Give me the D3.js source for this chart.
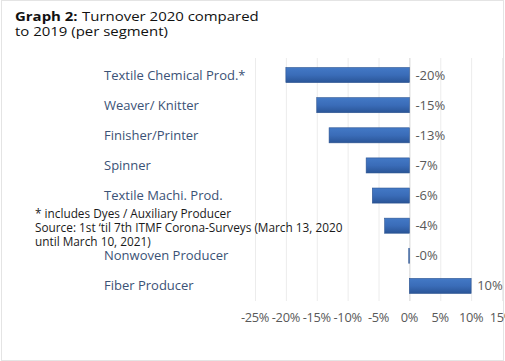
<!DOCTYPE html>
<html><head><meta charset="utf-8">
<script src="https://cdn.jsdelivr.net/npm/d3@7"></script>
<style>body{margin:0;background:#fff}svg{display:block}</style>
</head><body>
<svg id="c" width="505" height="361"></svg>
<script>
const categories = ["Textile Chemical Prod.*","Weaver/ Knitter","Finisher/Printer","Spinner","Textile Machi. Prod.","Dyes","Nonwoven Producer","Fiber Producer"];
const shownLabels = ["Textile Chemical Prod.*","Weaver/ Knitter","Finisher/Printer","Spinner","Textile Machi. Prod.","","Nonwoven Producer","Fiber Producer"];
const values = [-20, -15, -13, -7, -6, -4, -0.1, 10];
const tickValues = [-25,-20,-15,-10,-5,0,5,10,15];
const titleBold = "Graph 2:";
const titleRest = "Turnover 2020 compared";
const titleLine2 = "to 2019 (per segment)";
const notes = ["* includes Dyes / Auxiliary Producer","Source: 1st \u2018til 7th ITMF Corona-Surveys (March 13, 2020","until March 10, 2021)"];

const svg = d3.select("#c");
const font = "'Open Sans', 'Noto Sans', sans-serif";
svg.append("rect").attr("x",1.5).attr("y",0.5).attr("width",502).attr("height",360).attr("fill","#fff").attr("stroke","#e4e4e4");

const x = d3.scaleLinear().domain([-25,15]).range([255,502]);
const y = d3.scaleBand().domain(categories).range([60,301]).paddingInner(0.5).paddingOuter(0.25);

const defs = svg.append("defs");
const g = defs.append("linearGradient").attr("id","bg").attr("x1",0).attr("y1",0).attr("x2",0).attr("y2",1);
g.append("stop").attr("offset","0%").attr("stop-color","#4379c6");
g.append("stop").attr("offset","50%").attr("stop-color","#3a6cb8");
g.append("stop").attr("offset","100%").attr("stop-color","#2a5597");

// gridlines
svg.append("g").selectAll("line").data(tickValues).join("line")
  .attr("x1",d=>x(d)+0.5).attr("x2",d=>x(d)+0.5).attr("y1",58).attr("y2",301)
  .attr("stroke",d=>d===0?"#d4d4d4":"#ececec").attr("stroke-width",1);

// tick labels
svg.append("g").selectAll("text").data(tickValues).join("text")
  .attr("x",d=>x(d)).attr("y",322).attr("text-anchor","middle")
  .attr("font-family",font).attr("font-size",12.8).attr("fill","#595959")
  .attr("letter-spacing",-0.3)
  .text(d=>d+"%");

// bars
svg.append("g").selectAll("rect").data(values).join("rect")
  .attr("x",d=>x(Math.min(0,d))).attr("width",d=>Math.abs(x(d)-x(0)))
  .attr("y",(d,i)=>y(categories[i])).attr("height",y.bandwidth())
  .attr("fill","url(#bg)").attr("stroke","#2a5290").attr("stroke-width",0.6);

// value labels
const fmt = v => (v<0?"-":"")+Math.round(Math.abs(v))+"%";
svg.append("g").selectAll("text").data(values).join("text")
  .attr("x",d=>x(Math.max(0,d))+6).attr("y",(d,i)=>y(categories[i])+y.bandwidth()/2)
  .attr("dy","0.35em").attr("font-family",font).attr("font-size",13).attr("fill","#595959")
  .text(fmt);

// category labels
svg.append("g").selectAll("text").data(shownLabels).join("text")
  .attr("x",104).attr("y",(d,i)=>y(categories[i])+y.bandwidth()/2)
  .attr("dy","0.35em").attr("font-family",font).attr("font-size",13).attr("fill","#3b5276")
  .text(d=>d);

// notes
svg.append("g").selectAll("text").data(notes).join("text")
  .attr("x",35).attr("y",(d,i)=>217.5+i*14.3)
  .attr("font-family",font).attr("font-size",11.8).attr("fill","#1a1a1a")
  .text(d=>d);

// title (horizontally wide face)
const sx = 1.15;
const tb = svg.append("text").attr("transform",`translate(15,21) scale(${sx},1)`).attr("font-family",font).attr("font-size",13)
  .attr("font-weight","bold").attr("fill","#111").text(titleBold);
const bw = tb.node().getComputedTextLength() * sx;
svg.append("text").attr("transform",`translate(${15+bw+4.5},21) scale(${sx},1)`).attr("font-family",font).attr("font-size",13)
  .attr("fill","#111").text(titleRest);
svg.append("text").attr("transform",`translate(15,35.5) scale(${sx},1)`).attr("font-family",font).attr("font-size",13)
  .attr("fill","#111").text(titleLine2);
</script>
</body></html>
